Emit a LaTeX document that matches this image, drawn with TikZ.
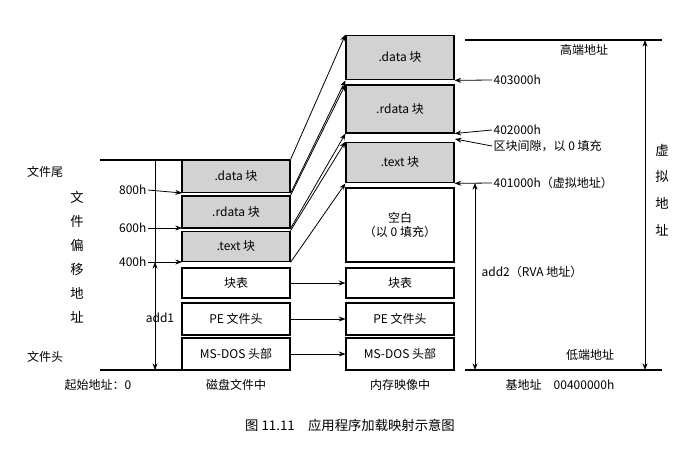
\documentclass[tikz,border=0pt]{standalone}
\usepackage{fontspec}
\newfontfamily\cjk{Noto Sans CJK SC}
\setmainfont{Liberation Serif}
\usetikzlibrary{arrows.meta}
\begin{document}
\begin{tikzpicture}[x=0.75pt,y=-0.75pt,font=\cjk\fontsize{9}{10}\selectfont,
 blk/.style={draw,line width=0.8pt,minimum width=81pt,inner sep=0},
 gblk/.style={blk,fill=gray!35},
 arr/.style={-{Stealth[length=5pt]},line width=0.6pt},
 darr/.style={{Stealth[length=5pt]}-{Stealth[length=5pt]},line width=0.6pt},
 thick2/.style={line width=1.4pt},
 lbl/.style={inner sep=1pt}]
\useasboundingbox (0,0) rectangle (698,452);
% left column
\node[gblk,minimum height=24.5pt] (ld) at (236,176.5) {.data 块};
\node[gblk,minimum height=24pt] (lr) at (236,212) {.rdata 块};
\node[gblk,minimum height=23pt] (lt) at (236,246.5) {.text 块};
\node[blk,minimum height=22.5pt] (lb) at (236,283) {块表};
\node[blk,minimum height=24pt] (lp) at (236,319) {PE 文件头};
\node[blk,minimum height=24pt] (lm) at (236,354) {MS-DOS 头部};
% middle column
\node[gblk,minimum height=33.5pt] (md) at (400,57.5) {.data 块};
\node[gblk,minimum height=36pt] (mr) at (400,109) {.rdata 块};
\node[gblk,minimum height=30.5pt] (mt) at (400,162.5) {.text 块};
\node[blk,minimum height=55.5pt,align=center] (mb) at (400,225) {空白\\（以 0 填充）};
\node[blk,minimum height=22.5pt] (mk) at (400,283) {块表};
\node[blk,minimum height=24pt] (mp) at (400,319) {PE 文件头};
\node[blk,minimum height=24pt] (mm) at (400,354) {MS-DOS 头部};
% mapping arrows
\draw[arr] (ld.north east) -- (md.north west);
\draw[arr] (ld.south east) -- (md.south west);
\draw[arr] (lr.north east) -- (mr.north west);
\draw[arr] (lr.south east) -- (mr.south west);
\draw[arr] (lt.north east) -- (mt.north west);
\draw[arr] (lt.south east) -- (mt.south west);
\draw[arr] (lb) -- (mk);
\draw[arr] (lp) -- (mp);
\draw[arr] (lm) -- (mm);
% left axis
\coordinate (lt1) at (100,160); \coordinate (lt2) at (290,160);
\coordinate (lb1) at (100,370); \coordinate (lb2) at (290,370);
\draw[thick2] (lt1) -- (lt2);
\draw[thick2] (lb1) -- (lb2);
\coordinate (vt) at (155,160); \coordinate (vb) at (155,370);
\draw[line width=0.6pt] (vt) -- (vb);
\node[lbl,anchor=east] (n800) at (148,190) {800h};
\node[lbl,anchor=east] (n600) at (148,228) {600h};
\node[lbl,anchor=east] (n400) at (148,262) {400h};
\coordinate (a800) at (182,193); \coordinate (a600) at (182,228); \coordinate (a400) at (182,262);
\draw[arr] (n800.east) -- (a800);
\draw[arr] (n600.east) -- (a600);
\draw[arr] (n400.east) -- (a400);
\coordinate (d1) at (155,262); \coordinate (d2) at (155,370);
\draw[darr] (d1) -- (d2);
\node[lbl] (add1) at (160,318) {add1};
\node[lbl] (wjw) at (45,172) {文件尾};
\node[lbl] (wjt) at (45,357) {文件头};
\node[lbl,align=center,font=\cjk\fontsize{10}{18}\selectfont] (off) at (77,257) {文\\件\\偏\\移\\地\\址};
\node[lbl] (s0) at (98,385) {起始地址：0};
\node[lbl] (cp) at (236,385) {磁盘文件中};
\node[lbl] (nc) at (400,385) {内存映像中};
\node[lbl] (jd) at (560,385) {基地址\quad 00400000h};
% right
\coordinate (rt1) at (465,40); \coordinate (rt2) at (662,40);
\coordinate (rb1) at (465,370); \coordinate (rb2) at (662,370);
\draw[thick2] (rt1) -- (rt2);
\draw[thick2] (rb1) -- (rb2);
\coordinate (va1) at (645,40); \coordinate (va2) at (645,370);
\draw[darr] (va1) -- (va2);
\node[lbl] (gd) at (584,50) {高端地址};
\node[lbl] (dd) at (590,355) {低端地址};
\node[lbl,align=center,font=\cjk\fontsize{10}{20}\selectfont] (xn) at (662,190) {虚\\拟\\地\\址};
\node[lbl,anchor=west] (h3) at (492,80) {403000h};
\node[lbl,anchor=west] (h2) at (492,130) {402000h};
\node[lbl,anchor=west] (gap) at (492,146) {区块间隙，以 0 填充};
\node[lbl,anchor=west] (h1) at (492,183) {401000h（虚拟地址）};
\draw[arr] (h3.west) -- (md.south east);
\draw[arr] (h2.west) -- (mr.south east);
\draw[arr] (gap.west) -- (455,139);
\draw[arr] (h1.west) -- (mt.south east);
\coordinate (r1) at (475,183); \coordinate (r2) at (475,370);
\draw[darr] (r1) -- (r2);
\node[lbl,anchor=west] (add2) at (480,272) {add2（RVA 地址）};
\node[lbl,font=\cjk\fontsize{10}{12}\selectfont] (cap) at (350,425) {图 11.11\quad 应用程序加载映射示意图};
\end{tikzpicture}
\end{document}
